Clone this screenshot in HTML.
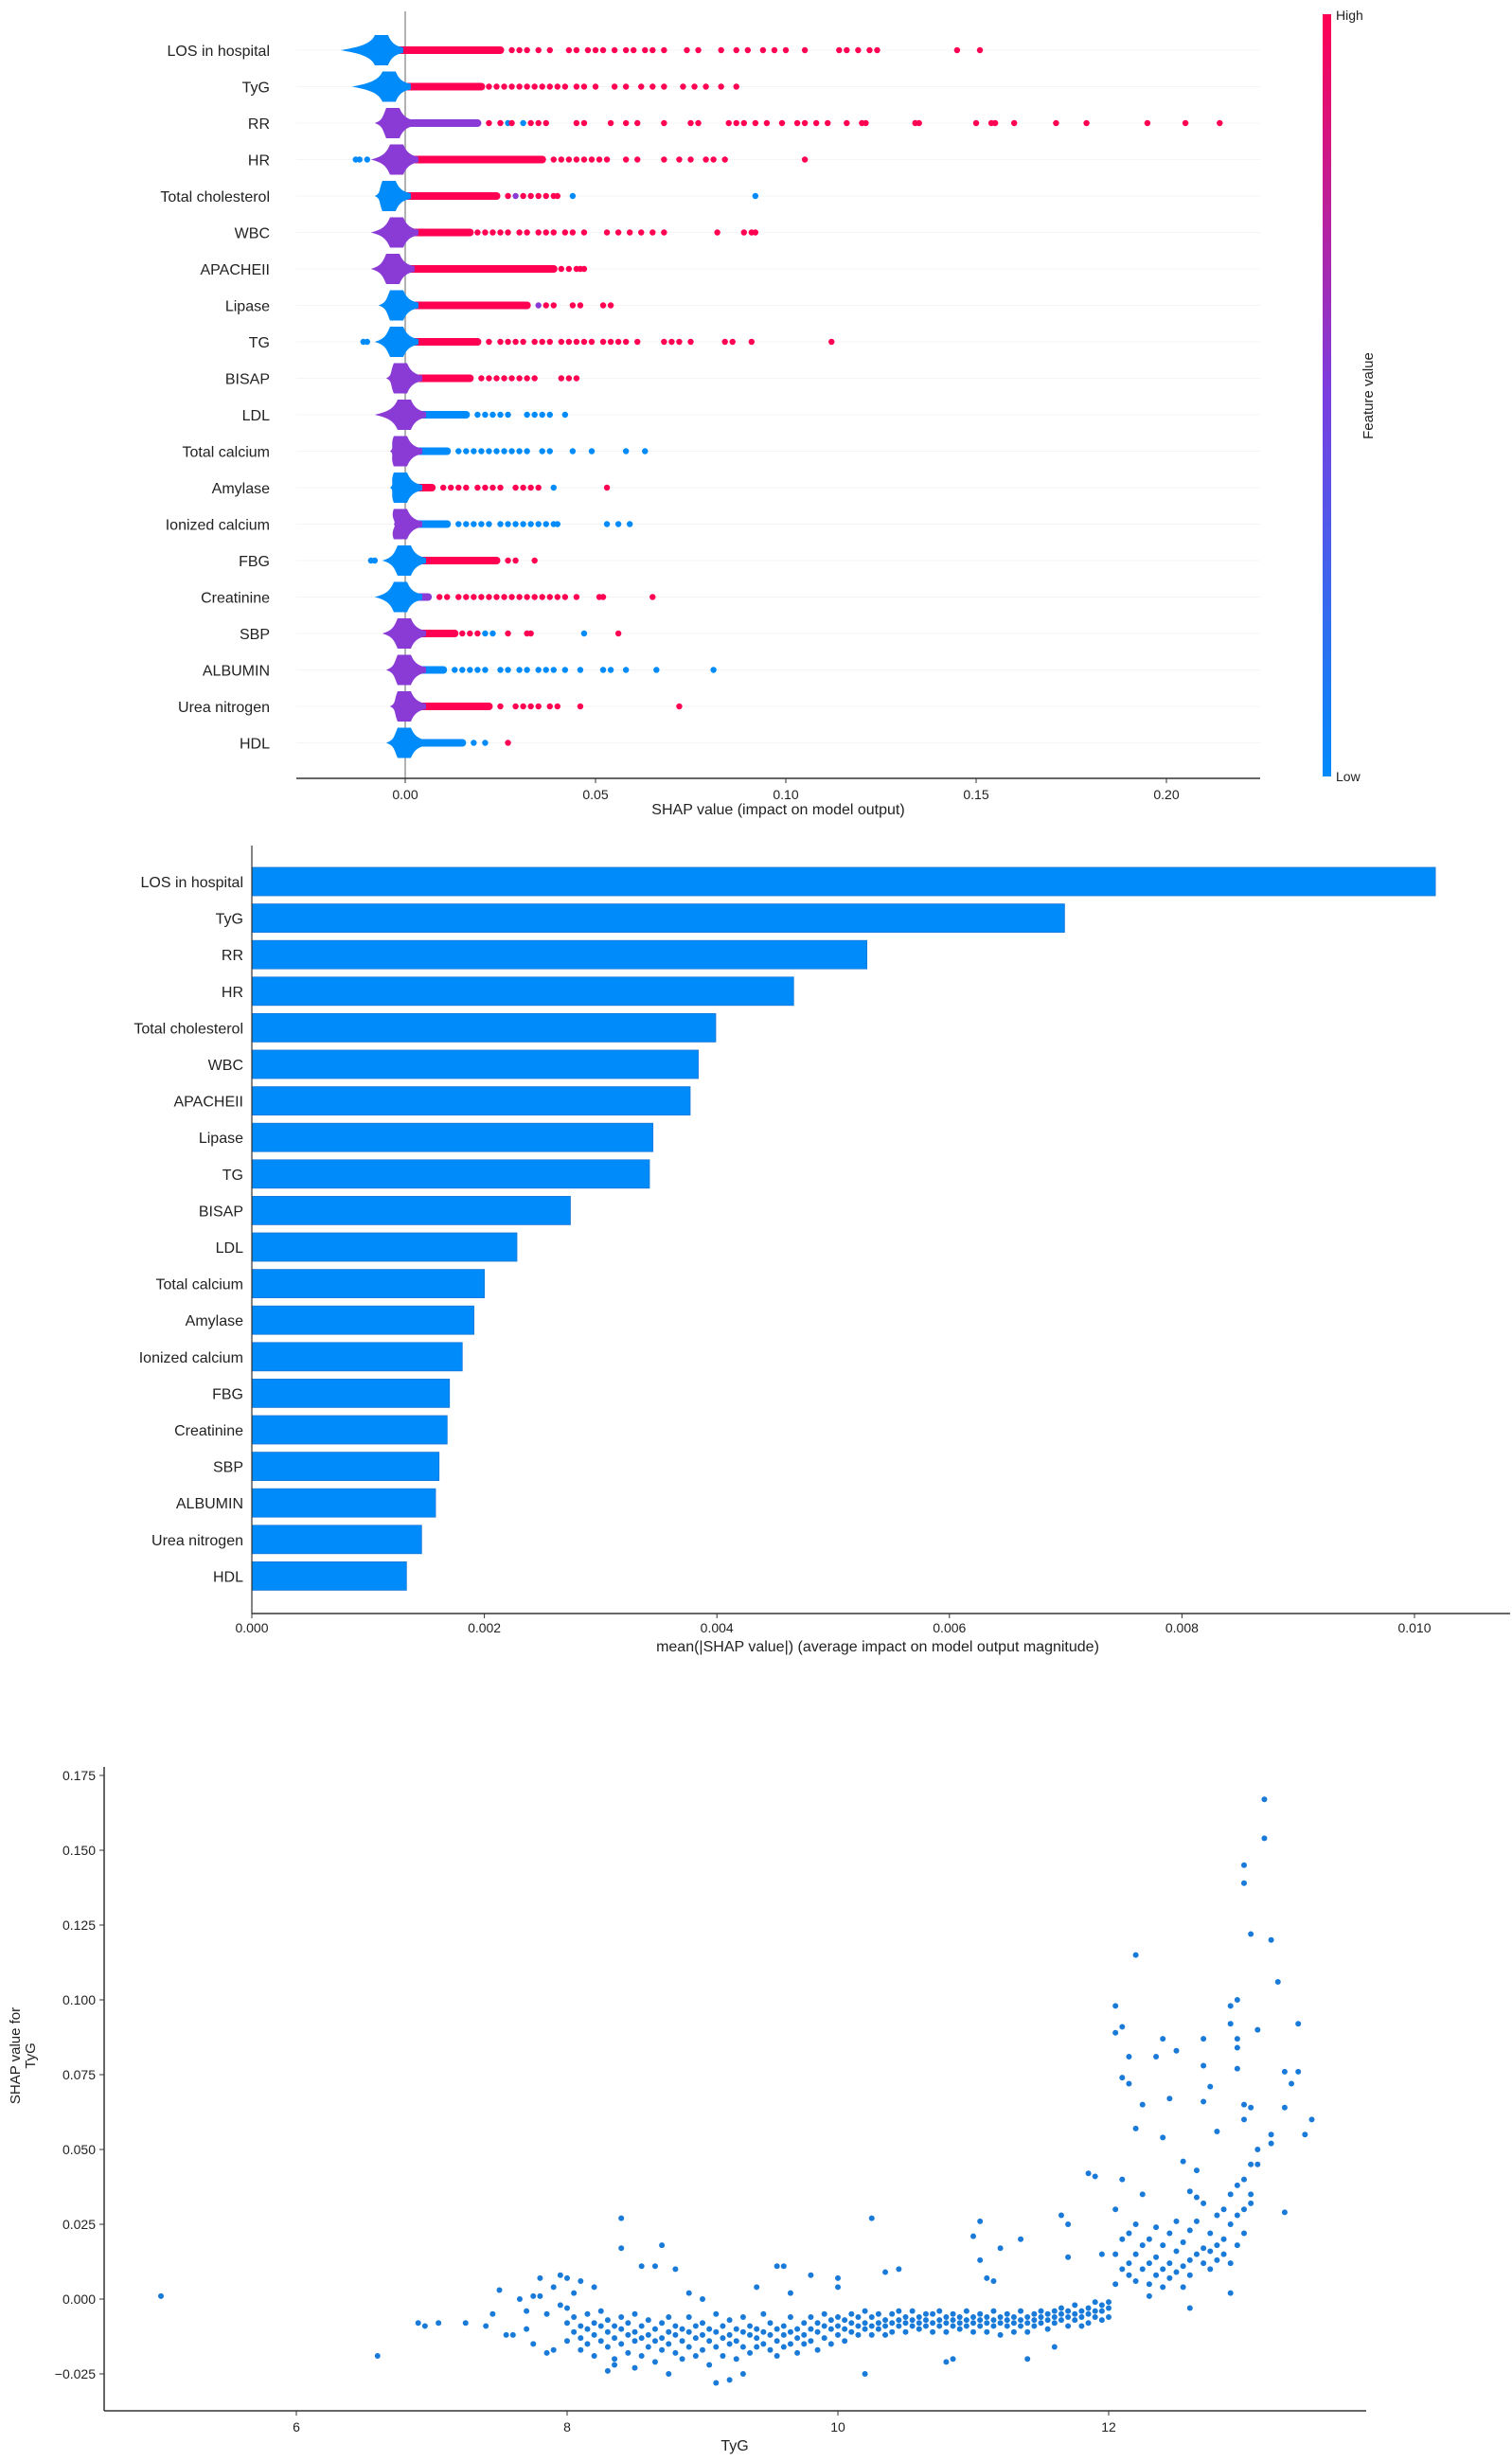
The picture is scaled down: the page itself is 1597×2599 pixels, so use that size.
<!DOCTYPE html>
<html><head><meta charset="utf-8">
<style>
html,body{margin:0;padding:0;background:#fff;}
svg{display:block;}
text{font-family:"Liberation Sans",sans-serif;fill:#222;}
</style></head>
<body>
<svg id="root" width="1597" height="2599" viewBox="0 0 1597 2599" xmlns="http://www.w3.org/2000/svg">
<defs>
<linearGradient id="cbar" x1="0" y1="1" x2="0" y2="0">
<stop offset="0" stop-color="#008bfb"/><stop offset="0.5" stop-color="#7a3ee0"/><stop offset="1" stop-color="#ff0052"/>
</linearGradient>
</defs>
<g id="beeswarm"></g>
<g id="bars"></g>
<g id="dep"></g>
</svg>
<script>
const features = ["LOS in hospital","TyG","RR","HR","Total cholesterol","WBC","APACHEII","Lipase","TG","BISAP","LDL","Total calcium","Amylase","Ionized calcium","FBG","Creatinine","SBP","ALBUMIN","Urea nitrogen","HDL"];
const swarmLo   = [-0.017,-0.014,-0.008,-0.009,-0.008,-0.009,-0.009,-0.007,-0.008,-0.005,-0.008,-0.004,-0.004,-0.003,-0.006,-0.008,-0.006,-0.005,-0.004,-0.005];
const swarmPeak = [-0.006,-0.004,-0.003,-0.002,-0.004,-0.002,-0.003,-0.002,-0.002,-0.001,0.0,-0.001,-0.001,-0.001,0.0,-0.001,0.0,0.0,0.0,0.0];
const stripEnd  = [0.026,0.021,0.020,0.037,0.025,0.018,0.040,0.033,0.020,0.018,0.017,0.012,0.008,0.012,0.025,0.007,0.014,0.011,0.023,0.016];
const blobColor = ["b","b","m","m","b","m","m","b","b","m","m","m","b","m","b","b","m","m","m","b"];
const stripColor= ["r","r","m","r","r","r","r","r","r","r","b","b","r","b","r","m","r","b","r","b"];
const dotVals = [
 [0.028,0.03,0.032,0.035,0.038,0.043,0.045,0.048,0.05,0.052,0.055,0.058,0.06,0.063,0.065,0.068,0.074,0.077,0.083,0.087,0.09,0.094,0.097,0.1,0.105,0.114,0.116,0.119,0.122,0.124,0.145,0.151],
 [0.022,0.024,0.026,0.028,0.03,0.032,0.034,0.036,0.038,0.04,0.042,0.045,0.047,0.05,0.055,0.058,0.062,0.065,0.068,0.073,0.076,0.079,0.083,0.087],
 [0.022,0.025,0.027,0.028,0.031,0.033,0.035,0.037,0.045,0.047,0.054,0.058,0.061,0.068,0.075,0.077,0.085,0.087,0.089,0.092,0.095,0.099,0.103,0.105,0.108,0.111,0.116,0.12,0.121,0.134,0.135,0.15,0.154,0.155,0.16,0.171,0.179,0.195,0.205,0.214],
 [-0.013,-0.012,-0.010,0.039,0.041,0.043,0.045,0.047,0.049,0.051,0.053,0.058,0.061,0.068,0.072,0.075,0.079,0.081,0.084,0.105],
 [0.027,0.029,0.031,0.033,0.035,0.037,0.039,0.040,0.044,0.092],
 [0.019,0.021,0.023,0.025,0.027,0.03,0.032,0.035,0.037,0.039,0.042,0.044,0.047,0.053,0.056,0.059,0.062,0.065,0.068,0.082,0.089,0.091,0.092],
 [0.041,0.043,0.045,0.046,0.047],
 [0.035,0.037,0.039,0.044,0.046,0.052,0.054],
 [-0.011,-0.010,0.022,0.025,0.027,0.029,0.031,0.034,0.036,0.038,0.041,0.043,0.045,0.047,0.049,0.052,0.054,0.056,0.058,0.061,0.068,0.07,0.072,0.075,0.084,0.086,0.091,0.112],
 [0.02,0.022,0.024,0.026,0.028,0.03,0.032,0.034,0.041,0.043,0.045],
 [0.019,0.021,0.023,0.025,0.027,0.032,0.034,0.036,0.038,0.042],
 [0.014,0.016,0.018,0.02,0.022,0.024,0.026,0.028,0.03,0.032,0.036,0.038,0.044,0.049,0.058,0.063],
 [0.01,0.012,0.014,0.016,0.019,0.021,0.023,0.025,0.029,0.031,0.033,0.035,0.039,0.053],
 [0.014,0.016,0.018,0.02,0.022,0.025,0.027,0.029,0.031,0.033,0.035,0.037,0.039,0.040,0.053,0.056,0.059],
 [-0.009,-0.008,0.027,0.029,0.034],
 [0.009,0.011,0.014,0.016,0.018,0.02,0.022,0.024,0.026,0.028,0.03,0.032,0.034,0.036,0.038,0.040,0.042,0.045,0.051,0.052,0.065],
 [0.015,0.017,0.019,0.021,0.023,0.027,0.032,0.033,0.047,0.056],
 [0.013,0.015,0.017,0.019,0.021,0.025,0.027,0.03,0.032,0.035,0.037,0.039,0.042,0.046,0.052,0.054,0.058,0.066,0.081],
 [0.025,0.029,0.031,0.033,0.035,0.038,0.04,0.046,0.072],
 [0.018,0.021,0.027]
];
const dotCols = [
 "rrrrrrrrrrrrrrrrrrrrrrrrrrrrrrrr","rrrrrrrrrrrrrrrrrrrrrrrr",
 "rrbrbrrrrrrrrrrrrrrrrrrrrrrrrrrrrrrrrrrr","bbbrrrrrrrrrrrrrrrrr","rmrrrrrrbb",
 "rrrrrrrrrrrrrrrrrrrrrrr","rrrrr","mrrrrrr","bbrrrrrrrrrrrrrrrrrrrrrrrrrr","rrrrrrrrrrr",
 "bbbbbbbbbb","bbbbbbbbbbbbbbbb","rrrrrrrrrrrrbr","bbbbbbbbbbbbbbbbb","bbrrr",
 "rrrrrrrrrrrrrrrrrrrrr","rrrbbrrrbr","bbbbbbbbbbbbbbbbbbb","rrrrrrrrr","bbr"
];
const beeTicks = [0.00,0.05,0.10,0.15,0.20];
const beeTickLabels = ["0.00","0.05","0.10","0.15","0.20"];

const meanAbs = [0.01018,0.00699,0.00529,0.00466,0.00399,0.00384,0.00377,0.00345,0.00342,0.00274,0.00228,0.0020,0.00191,0.00181,0.0017,0.00168,0.00161,0.00158,0.00146,0.00133];
const barTicks = [0,0.002,0.004,0.006,0.008,0.010];
const barTickLabels = ["0.000","0.002","0.004","0.006","0.008","0.010"];

const depXTicks=[6,8,10,12];
const depYTicks=[-0.025,0,0.025,0.05,0.075,0.1,0.125,0.15,0.175];
const depYTickLabels=["−0.025","0.000","0.025","0.050","0.075","0.100","0.125","0.150","0.175"];
const depPoints = [
[5.0,0.001],[6.6,-0.019],[6.9,-0.008],[6.95,-0.009],[7.05,-0.008],[7.25,-0.008],[7.4,-0.009],[7.45,-0.005],[7.5,0.003],[7.55,-0.012],[7.6,-0.012],[7.65,0.0],[7.7,-0.010],[7.75,-0.015],[7.8,0.001],[7.85,-0.005],[7.85,-0.018],[7.9,-0.017],[7.95,-0.002],[7.9,0.004],[7.8,0.007],[7.7,-0.004],[7.75,0.001],
[8.00,-0.008],[8.00,-0.014],[8.00,-0.003],[8.05,-0.011],[8.05,-0.006],[8.05,0.002],[8.10,-0.013],[8.10,-0.009],[8.10,-0.017],[8.15,-0.010],[8.15,-0.005],[8.15,-0.015],
[8.20,-0.012],[8.20,-0.008],[8.20,-0.019],[8.25,-0.009],[8.25,-0.014],[8.25,-0.004],[8.30,-0.011],[8.30,-0.016],[8.30,-0.007],[8.35,-0.013],[8.35,-0.009],[8.35,-0.020],
[8.40,-0.010],[8.40,-0.015],[8.40,-0.006],[8.45,-0.012],[8.45,-0.018],[8.45,-0.008],[8.50,-0.011],[8.50,-0.014],[8.50,-0.005],[8.55,-0.013],[8.55,-0.009],[8.55,-0.019],
[8.60,-0.012],[8.60,-0.016],[8.60,-0.007],[8.65,-0.010],[8.65,-0.014],[8.65,-0.021],[8.70,-0.013],[8.70,-0.008],[8.70,-0.017],[8.75,-0.011],[8.75,-0.015],[8.75,-0.006],
[8.80,-0.012],[8.80,-0.018],[8.80,-0.009],[8.85,-0.014],[8.85,-0.010],[8.85,-0.020],[8.90,-0.011],[8.90,-0.016],[8.90,-0.006],[8.95,-0.013],[8.95,-0.009],[8.95,-0.019],
[9.00,-0.012],[9.00,-0.017],[9.00,-0.008],[9.05,-0.014],[9.05,-0.010],[9.05,-0.022],[9.10,-0.011],[9.10,-0.016],[9.10,-0.005],[9.15,-0.013],[9.15,-0.019],[9.15,-0.009],
[9.20,-0.012],[9.20,-0.015],[9.20,-0.007],[9.25,-0.014],[9.25,-0.010],[9.25,-0.020],[9.30,-0.011],[9.30,-0.016],[9.30,-0.006],[9.35,-0.012],[9.35,-0.018],[9.35,-0.009],
[9.40,-0.013],[9.40,-0.010],[9.40,-0.016],[9.45,-0.011],[9.45,-0.015],[9.45,-0.005],[9.50,-0.012],[9.50,-0.017],[9.50,-0.008],[9.55,-0.010],[9.55,-0.014],[9.55,-0.019],
[9.60,-0.012],[9.60,-0.009],[9.60,-0.016],[9.65,-0.011],[9.65,-0.015],[9.65,-0.006],[9.70,-0.010],[9.70,-0.013],[9.70,-0.018],[9.75,-0.012],[9.75,-0.008],[9.75,-0.015],
[9.80,-0.010],[9.80,-0.014],[9.80,-0.006],[9.85,-0.011],[9.85,-0.008],[9.85,-0.017],[9.90,-0.009],[9.90,-0.013],[9.90,-0.005],[9.95,-0.010],[9.95,-0.007],[9.95,-0.015],
[10.00,-0.009],[10.00,-0.012],[10.00,-0.006],[10.05,-0.010],[10.05,-0.007],[10.05,-0.014],[10.10,-0.008],[10.10,-0.011],[10.10,-0.005],[10.15,-0.009],[10.15,-0.012],[10.15,-0.006],
[10.20,-0.008],[10.20,-0.010],[10.20,-0.004],[10.25,-0.009],[10.25,-0.006],[10.25,-0.012],[10.30,-0.008],[10.30,-0.010],[10.30,-0.005],[10.35,-0.007],[10.35,-0.009],[10.35,-0.012],
[10.40,-0.008],[10.40,-0.005],[10.40,-0.011],[10.45,-0.007],[10.45,-0.009],[10.45,-0.004],[10.50,-0.008],[10.50,-0.006],[10.50,-0.011],[10.55,-0.007],[10.55,-0.009],[10.55,-0.004],
[10.60,-0.008],[10.60,-0.006],[10.60,-0.010],[10.65,-0.007],[10.65,-0.009],[10.65,-0.005],[10.70,-0.008],[10.70,-0.005],[10.70,-0.011],[10.75,-0.007],[10.75,-0.009],[10.75,-0.004],
[10.80,-0.006],[10.80,-0.008],[10.80,-0.011],[10.85,-0.007],[10.85,-0.005],[10.85,-0.009],[10.90,-0.008],[10.90,-0.006],[10.90,-0.010],[10.95,-0.007],[10.95,-0.004],[10.95,-0.009],
[11.00,-0.006],[11.00,-0.008],[11.00,-0.011],[11.05,-0.007],[11.05,-0.005],[11.05,-0.009],[11.10,-0.008],[11.10,-0.006],[11.10,-0.011],[11.15,-0.007],[11.15,-0.004],[11.15,-0.009],
[11.20,-0.006],[11.20,-0.008],[11.20,-0.012],[11.25,-0.007],[11.25,-0.005],[11.25,-0.009],[11.30,-0.008],[11.30,-0.006],[11.30,-0.011],[11.35,-0.007],[11.35,-0.004],[11.35,-0.009],
[11.40,-0.006],[11.40,-0.008],[11.40,-0.011],[11.45,-0.007],[11.45,-0.005],[11.45,-0.009],[11.50,-0.006],[11.50,-0.008],[11.50,-0.004],[11.55,-0.007],[11.55,-0.005],[11.55,-0.010],
[11.60,-0.006],[11.60,-0.004],[11.60,-0.008],[11.65,-0.005],[11.65,-0.007],[11.65,-0.003],[11.70,-0.006],[11.70,-0.004],[11.70,-0.009],[11.75,-0.005],[11.75,-0.007],[11.75,-0.002],
[11.80,-0.006],[11.80,-0.004],[11.80,-0.009],[11.85,-0.005],[11.85,-0.003],[11.85,-0.008],[11.90,-0.004],[11.90,-0.006],[11.90,-0.001],[11.95,-0.004],[11.95,-0.002],[11.95,-0.007],
[12.00,-0.003],[12.00,-0.001],[12.00,-0.006],
[8.4,0.027],[8.4,0.017],[8.7,0.018],[8.55,0.011],[8.65,0.011],[8.8,0.010],[7.95,0.008],[8.0,0.007],[8.1,0.006],[8.2,0.004],[8.3,-0.024],[8.35,-0.022],[8.5,-0.023],[8.75,-0.025],[9.1,-0.028],[9.2,-0.027],[9.3,-0.025],[9.55,0.011],[9.6,0.011],[9.8,0.008],[10.0,0.007],[10.0,0.004],[10.25,0.027],[10.35,0.009],[10.45,0.010],[10.2,-0.025],[10.85,-0.020],[10.8,-0.021],[11.0,0.021],[11.05,0.026],[11.05,0.013],[11.2,0.017],[11.35,0.020],[11.1,0.007],[11.15,0.006],[11.4,-0.020],[11.65,0.028],[11.7,0.025],[11.7,0.014],[11.85,0.042],[11.9,0.041],[11.95,0.015],[11.6,-0.016],[9.0,0.0],[9.4,0.004],[9.65,0.002],[8.9,0.002],
[12.05,0.005],[12.05,0.015],[12.05,0.030],[12.10,0.010],[12.10,0.020],[12.10,0.040],[12.15,0.012],[12.15,0.022],[12.15,0.008],[12.20,0.015],[12.20,0.025],[12.20,0.006],[12.25,0.010],[12.25,0.018],[12.25,0.035],
[12.30,0.012],[12.30,0.020],[12.30,0.005],[12.35,0.008],[12.35,0.014],[12.35,0.024],[12.40,0.010],[12.40,0.018],[12.40,0.004],[12.45,0.012],[12.45,0.022],[12.45,0.007],[12.50,0.009],[12.50,0.016],[12.50,0.026],
[12.55,0.011],[12.55,0.019],[12.55,0.004],[12.60,0.013],[12.60,0.023],[12.60,0.008],[12.65,0.015],[12.65,0.026],[12.65,0.034],[12.70,0.017],[12.70,0.012],[12.70,0.032],[12.75,0.016],[12.75,0.022],[12.75,0.010],
[12.80,0.018],[12.80,0.028],[12.80,0.013],[12.85,0.020],[12.85,0.030],[12.85,0.015],[12.90,0.025],[12.90,0.035],[12.90,0.012],[12.95,0.028],[12.95,0.038],[12.95,0.018],[13.00,0.030],[13.00,0.040],[13.00,0.022],[13.05,0.032],[13.05,0.045],[13.05,0.035],
[12.05,0.098],[12.05,0.089],[12.1,0.091],[12.1,0.074],[12.15,0.081],[12.15,0.072],[12.2,0.115],[12.25,0.065],[12.2,0.057],[12.35,0.081],[12.4,0.087],[12.45,0.067],[12.5,0.083],[12.55,0.046],[12.4,0.054],[12.7,0.087],[12.7,0.078],[12.75,0.071],[12.7,0.066],[12.8,0.056],[12.9,0.092],[12.95,0.077],[12.95,0.100],[12.9,0.098],[12.95,0.087],[12.95,0.084],[13.0,0.145],[13.0,0.139],[13.05,0.122],[13.1,0.090],[13.15,0.167],[13.15,0.154],[13.2,0.120],[13.25,0.106],[13.3,0.064],[13.3,0.076],[13.35,0.072],[13.4,0.076],[13.4,0.092],[13.45,0.055],[13.5,0.060],[13.3,0.029],[13.2,0.052],[13.1,0.050],[13.2,0.055],[13.0,0.065],[13.05,0.064],[12.9,0.002],[12.6,-0.003],[12.3,0.001],[13.0,0.060],[13.1,0.045],[12.6,0.036],[12.65,0.043]
];

const NS="http://www.w3.org/2000/svg";
function mk(tag,attrs,parent,txt){const e=document.createElementNS(NS,tag);for(const k in attrs)e.setAttribute(k,attrs[k]);if(txt!==undefined)e.textContent=txt;parent.appendChild(e);return e;}
const COL={r:"#ff0052",b:"#008bfb",m:"#8a3bd6"};

(function(){
 const g=document.getElementById('beeswarm');
 const bx=v=>428+v*4020;
 const by=i=>53+i*38.5;
 const axisY=822;
 let l=mk('line',{x1:bx(0),y1:12,x2:bx(0),y2:axisY,stroke:'#999','stroke-width':1.5},g);
 
 
 features.forEach((f,i)=>{
  const y=by(i);
  let t=mk('text',{x:285,y:y+6,'text-anchor':'end','font-size':16},g,f);
  
  
  mk('line',{x1:313,y1:y,x2:1331,y2:y,stroke:'#f4f4f4','stroke-width':1},g);
  let s=mk('rect',{x:bx(swarmPeak[i]),y:y-4,width:bx(stripEnd[i])-bx(swarmPeak[i]),height:8,rx:4,fill:COL[stripColor[i]]},g);
  
  
  const lo=bx(swarmLo[i]),pk=bx(swarmPeak[i]),h=16;
  const d=`M${lo},${y} C${lo+(pk-lo)*0.4},${y-3} ${pk-12},${y-6} ${pk-8},${y-h} L${pk+6},${y-h} C${pk+10},${y-6} ${pk+16},${y-4} ${pk+22},${y-3} L${pk+22},${y+3} C${pk+16},${y+4} ${pk+10},${y+6} ${pk+6},${y+h} L${pk-8},${y+h} C${pk-12},${y+6} ${lo+(pk-lo)*0.4},${y+3} ${lo},${y} Z`;
  let b=mk('path',{d:d,fill:COL[blobColor[i]]},g);
  
  
  dotVals[i].forEach((v,j)=>{
   let c=mk('circle',{cx:bx(v),cy:y,r:3.2,fill:COL[dotCols[i][j]]||COL.r},g);
   
   
  });
 });
 let ax=mk('line',{x1:313,y1:axisY,x2:1331,y2:axisY,stroke:'#333','stroke-width':1.5},g);
 
 
 beeTicks.forEach((v,k)=>{
  mk('line',{x1:bx(v),y1:axisY,x2:bx(v),y2:axisY+5,stroke:'#333'},g);
  let t=mk('text',{x:bx(v),y:axisY+22,'text-anchor':'middle','font-size':14},g,beeTickLabels[k]);
  
  
 });
 let tt=mk('text',{x:822,y:860,'text-anchor':'middle','font-size':16},g,'SHAP value (impact on model output)');
 
 
 let cb=mk('rect',{x:1397,y:15,width:9,height:805,fill:'url(#cbar)'},g);
 
 
 let hi=mk('text',{x:1411,y:21,'font-size':14},g,'High');
 
 
 let lo2=mk('text',{x:1411,y:825,'font-size':14},g,'Low');
 
 
 let fv=mk('text',{x:1450,y:418,'font-size':15,'text-anchor':'middle',transform:'rotate(-90 1450 418)'},g,'Feature value');
 
 
})();

(function(){
 const g=document.getElementById('bars');
 const x=v=>266+v*122800;
 const y=i=>931+i*38.6;
 const axisY=1704;
 features.forEach((f,i)=>{
  let r=mk('rect',{x:x(0),y:y(i)-15,width:x(meanAbs[i])-x(0),height:30,fill:'#008bfb',stroke:'#1a78d8','stroke-width':0.8},g);
  
  
  let t=mk('text',{x:257,y:y(i)+6,'text-anchor':'end','font-size':16},g,f);
  
  
 });
 let ya=mk('line',{x1:266,y1:893,x2:266,y2:axisY,stroke:'#333','stroke-width':1.2},g);
 
 
 let xa=mk('line',{x1:266,y1:axisY,x2:1595,y2:axisY,stroke:'#333','stroke-width':1.5},g);
 
 
 barTicks.forEach((v,k)=>{
  mk('line',{x1:x(v),y1:axisY,x2:x(v),y2:axisY+5,stroke:'#333'},g);
  let t=mk('text',{x:x(v),y:axisY+20,'text-anchor':'middle','font-size':14},g,barTickLabels[k]);
  
  
 });
 let tt=mk('text',{x:927,y:1744,'text-anchor':'middle','font-size':16},g,'mean(|SHAP value|) (average impact on model output magnitude)');
 
 
})();

(function(){
 const g=document.getElementById('dep');
 const x=v=>313+(v-6)*143;
 const y=v=>2428-v*3160;
 const axisY=2546;
 let ya=mk('line',{x1:110,y1:1866,x2:110,y2:axisY,stroke:'#333','stroke-width':1.5},g);
 
 
 let xa=mk('line',{x1:110,y1:axisY,x2:1443,y2:axisY,stroke:'#333','stroke-width':1.5},g);
 
 
 depYTicks.forEach((v,k)=>{
  mk('line',{x1:105,y1:y(v),x2:110,y2:y(v),stroke:'#333'},g);
  let t=mk('text',{x:101,y:y(v)+5,'text-anchor':'end','font-size':14},g,depYTickLabels[k]);
  
  
 });
 depXTicks.forEach(v=>{
  mk('line',{x1:x(v),y1:axisY,x2:x(v),y2:axisY+5,stroke:'#333'},g);
  let t=mk('text',{x:x(v),y:axisY+22,'text-anchor':'middle','font-size':14},g,String(v));
  
  
 });
 depPoints.forEach(p=>{
  let c=mk('circle',{cx:x(p[0]),cy:y(p[1]),r:3,fill:'#1a7ad8'},g);
  
  
 });
 let tx=mk('text',{x:776,y:2588,'text-anchor':'middle','font-size':16},g,'TyG');
 
 
 let ty=mk('text',{x:0,y:0,'font-size':15,'text-anchor':'middle',transform:'translate(21 2171) rotate(-90)'},g);
 
 
 mk('tspan',{x:0,dy:0},ty,'SHAP value for');
 mk('tspan',{x:0,dy:16},ty,'TyG');
})();
</script>
</body></html>
